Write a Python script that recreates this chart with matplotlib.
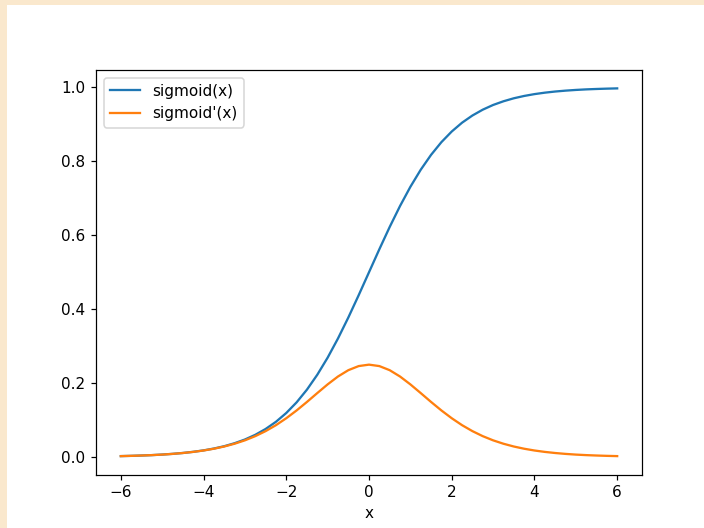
import matplotlib
matplotlib.use("Agg")
import matplotlib.pyplot as plt
from matplotlib.patches import Rectangle

# values, x from -6 to 6 in steps of 0.25
x = [-6.0, -5.75, -5.5, -5.25, -5.0, -4.75, -4.5, -4.25, -4.0, -3.75, -3.5, -3.25,
     -3.0, -2.75, -2.5, -2.25, -2.0, -1.75, -1.5, -1.25, -1.0, -0.75, -0.5, -0.25,
     0.0, 0.25, 0.5, 0.75, 1.0, 1.25, 1.5, 1.75, 2.0, 2.25, 2.5, 2.75,
     3.0, 3.25, 3.5, 3.75, 4.0, 4.25, 4.5, 4.75, 5.0, 5.25, 5.5, 5.75, 6.0]

sig = [0.0025, 0.0032, 0.0041, 0.0052, 0.0067, 0.0086, 0.0110, 0.0141, 0.0180,
       0.0230, 0.0293, 0.0374, 0.0474, 0.0601, 0.0759, 0.0953, 0.1192, 0.1480,
       0.1824, 0.2227, 0.2689, 0.3208, 0.3775, 0.4378, 0.5000,
       0.5622, 0.6225, 0.6792, 0.7311, 0.7773, 0.8176, 0.8520, 0.8808, 0.9047,
       0.9241, 0.9399, 0.9526, 0.9626, 0.9707, 0.9770, 0.9820, 0.9859, 0.9890,
       0.9914, 0.9933, 0.9948, 0.9959, 0.9968, 0.9975]

dsig = [0.0025, 0.0032, 0.0041, 0.0052, 0.0066, 0.0085, 0.0109, 0.0139, 0.0177,
        0.0225, 0.0285, 0.0360, 0.0452, 0.0565, 0.0701, 0.0862, 0.1050, 0.1261,
        0.1491, 0.1731, 0.1966, 0.2179, 0.2350, 0.2461, 0.2500,
        0.2461, 0.2350, 0.2179, 0.1966, 0.1731, 0.1491, 0.1261, 0.1050, 0.0862,
        0.0701, 0.0565, 0.0452, 0.0360, 0.0285, 0.0225, 0.0177, 0.0139, 0.0109,
        0.0085, 0.0066, 0.0052, 0.0041, 0.0032, 0.0025]

fig = plt.figure(figsize=(6.4, 4.8), dpi=110, facecolor='#fae8cd')
# white page area (beige strip on the left and top)
fig.patches.append(Rectangle((7 / 704, 0), 1, 1 - 5 / 528, transform=fig.transFigure,
                             facecolor='white', edgecolor='none', zorder=-10))

ax = fig.add_axes([96 / 704, 53.5 / 528, 546 / 704, 404.5 / 528])
ax.plot(x, sig, label='sigmoid(x)')
ax.plot(x, dsig, label="sigmoid'(x)")
ax.set_xlabel('x')
ax.legend(loc='upper left')

fig.savefig('out.png', dpi=110, facecolor=fig.get_facecolor())
